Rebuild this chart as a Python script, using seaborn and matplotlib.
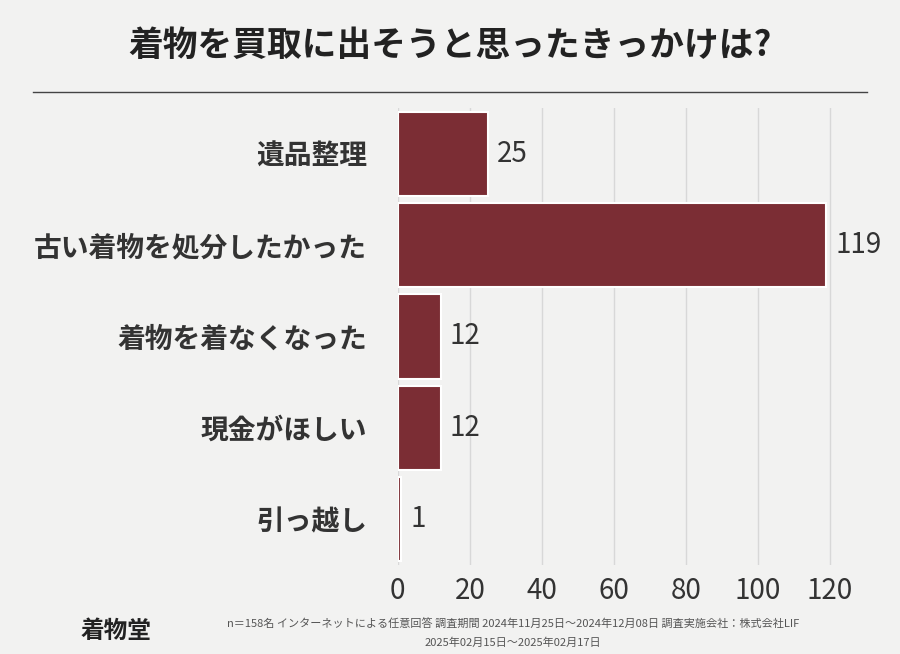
import matplotlib
matplotlib.use("Agg")
import matplotlib.pyplot as plt
import seaborn as sns
import pandas as pd

categories = ["遺品整理", "古い着物を処分したかった", "着物を着なくなった", "現金がほしい", "引っ越し"]
values = [25, 119, 12, 12, 1]
xticks = [0, 20, 40, 60, 80, 100, 120]
title = "着物を買取に出そうと思ったきっかけは?"
note1 = "n＝158名 インターネットによる任意回答 調査期間 2024年11月25日～2024年12月08日 調査実施会社：株式会社LIF"
note2 = "2025年02月15日～2025年02月17日"

FONT = "Noto Sans CJK JP"
plt.rcParams["font.family"] = FONT
bg = "#f2f2f1"
bar_color = "#7b2d34"

df = pd.DataFrame({"cat": categories, "val": values})
fig = plt.figure(figsize=(9, 6.54), dpi=100, facecolor=bg)
ax = fig.add_axes([0.442, 0.136, 0.502, 0.699])
ax.set_facecolor(bg)
sns.barplot(data=df, x="val", y="cat", orient="h", color=bar_color,
            edgecolor="white", linewidth=1.5, width=0.92, ax=ax, saturation=1)
ax.set_xlim(0, 125.5)
ax.set_xticks(xticks)
ax.grid(axis="x", color="#d8d8d8", linewidth=1)
ax.set_axisbelow(True)
for s in ax.spines.values():
    s.set_visible(False)
ax.set_xlabel("")
ax.set_ylabel("")
ax.tick_params(length=0)
ax.tick_params(axis="x", labelsize=20, colors="#333333", pad=8)
ax.tick_params(axis="y", labelsize=20, colors="#333333", pad=22)
for lbl in ax.get_yticklabels():
    lbl.set_fontweight("bold")
for i, v in enumerate(values):
    ax.text(v + 2.5, i, str(v), va="center", ha="left", fontsize=20, color="#333333")

fig.text(0.5, 0.93, title, ha="center", va="center", fontsize=25, fontweight="bold", color="#222222")
fig.add_artist(plt.Line2D([0.037, 0.963], [0.859, 0.859], color="#444444", linewidth=1))
fig.text(0.09, 0.035, "着物堂", ha="left", va="center", fontsize=17, fontweight="bold", color="#222222")
fig.text(0.57, 0.047, note1, ha="center", va="center", fontsize=8, color="#555555")
fig.text(0.57, 0.017, note2, ha="center", va="center", fontsize=8, color="#555555")
fig.savefig("out.png", dpi=100, facecolor=bg)
